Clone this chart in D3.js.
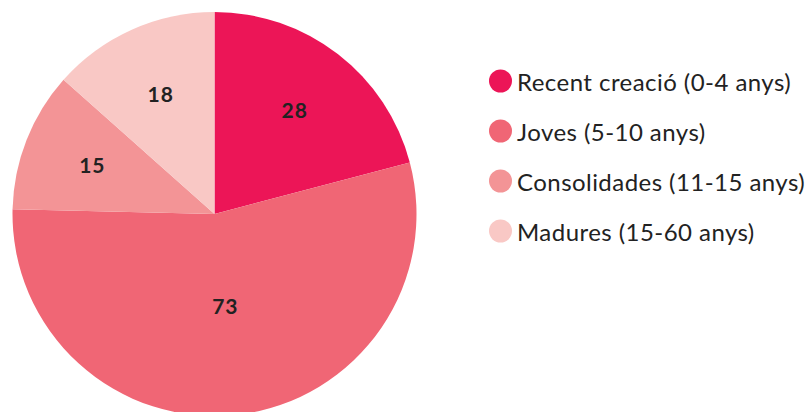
<!DOCTYPE html>
<html>
<head>
<meta charset="utf-8">
<script src="https://cdn.jsdelivr.net/npm/d3@7"></script>
<style>
  body { margin: 0; background: #fff; }
  svg { display: block; font-family: Lato, "Noto Sans", sans-serif; }
</style>
</head>
<body>
<div id="chart"></div>
<script>
'use strict';

// Categories (legend labels)
var categories = [
  'Recent creació (0-4 anys)',
  'Joves (5-10 anys)',
  'Consolidades (11-15 anys)',
  'Madures (15-60 anys)'
];
// Number of entities per group
var values = [28, 73, 15, 18];
var colors = ['#EC1557', '#F06675', '#F39496', '#F9C8C5'];

var width = 808, height = 412;
var cx = 214.5, cy = 214, radius = 202;

var svg = d3.select('#chart').append('svg')
  .attr('width', width)
  .attr('height', height);

var data = categories.map(function(c, i) {
  return { name: c, value: values[i], color: colors[i] };
});

var pie = d3.pie()
  .sort(null)
  .value(function(d) { return d.value; });

var arc = d3.arc().innerRadius(0).outerRadius(radius);

var arcs = pie(data);

var g = svg.append('g').attr('transform', 'translate(' + cx + ',' + cy + ')');

g.selectAll('path.slice')
  .data(arcs)
  .enter().append('path')
    .attr('class', 'slice')
    .attr('d', arc)
    .attr('fill', function(d) { return d.data.color; });

// labels: big slices get pulled toward the center (part of it is cut off)
g.selectAll('text.val')
  .data(arcs)
  .enter().append('text')
    .attr('class', 'val')
    .attr('transform', function(d) {
      var span = d.endAngle - d.startAngle;
      var r = span > Math.PI ? radius * 0.46 : radius * 0.65;
      var la = d3.arc().innerRadius(r).outerRadius(r);
      return 'translate(' + la.centroid(d) + ')';
    })
    .attr('text-anchor', 'middle')
    .attr('dy', '0.36em')
    .style('font-size', '21px')
    .style('font-weight', 'bold')
    .style('letter-spacing', '1px')
    .attr('fill', '#222')
    .text(function(d) { return d.data.value; });

// legend
var legend = svg.append('g').attr('transform', 'translate(500.5,81)');

var rows = legend.selectAll('g.row')
  .data(data)
  .enter().append('g')
    .attr('class', 'row')
    .attr('transform', function(d, i) { return 'translate(0,' + (i * 50) + ')'; });

rows.append('circle')
  .attr('r', 11.5)
  .attr('fill', function(d) { return d.color; });

rows.append('text')
  .attr('x', 16.5)
  .attr('dy', '0.4em')
  .style('font-size', '24px')
  .style('letter-spacing', '0.45px')
  .attr('fill', '#222')
  .text(function(d) { return d.name; });
</script>
</body>
</html>
